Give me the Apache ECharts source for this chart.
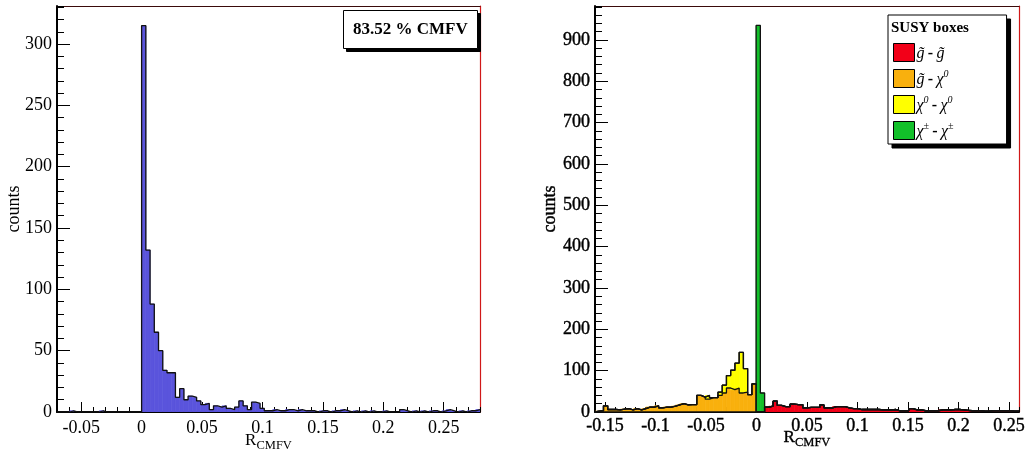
<!DOCTYPE html>
<html><head><meta charset="utf-8">
<script src="https://cdn.jsdelivr.net/npm/echarts@6/dist/echarts.min.js"></script>
<style>html,body{margin:0;padding:0;background:#fff}#c{width:1026px;height:455px}</style>
</head><body><div id="c"></div>
<script>
// ---------- data ----------
const LEFT_BINNING = [-0.07, 0.28, 100];   // min, max, nbins
const RIGHT_BINNING = [-0.16, 0.26, 100];
const LEFT_X_TICKS = [-0.05, 0, 0.05, 0.1, 0.15, 0.2, 0.25];
const RIGHT_X_TICKS = [-0.15, -0.1, -0.05, 0, 0.05, 0.1, 0.15, 0.2, 0.25];
const LEFT_Y_MAX = 331;
const RIGHT_Y_MAX = 982;
const BOX_TEXT = '83.52 % CMFV';
const LEGEND_TITLE = 'SUSY boxes';

const cmfv = [
  0,0,0,1,0,0,0,0,0,0,
  1,0,0,0,0,0,0,0,0,0,
  315,132,88,65,50,34,32,32,12,19,
  10,13,12,9,6,7,2,5,4,5,
  3,2,4,9,5,2,8,7,3,1,
  1,2,1,1,2,2,1,2,1,1,
  1,0,1,1,0,1,1,2,1,0,
  1,0,1,0,1,0,0,1,0,0,
  0,2,1,0,1,0,1,0,1,1,
  0,1,2,1,0,1,0,1,1,2
];
const gluGlu = [
  0,0,0,0,0,0,0,0,0,0, 0,0,0,0,0,0,0,0,0,0,
  0,0,0,0,0,0,0,0,0,0, 0,0,0,0,0,0,0,0,0,0,
  12,14,26,16,13,13,19,18,18,10,
  11,11,11,17,10,10,13,13,13,10,
  8,8,6,6,6,6,6,5,5,5,
  6,3,3,3,8,5,5,3,3,3,
  3,5,5,5,6,6,5,4,3,3,
  3,2,2,3,3,3,3,3,2,2
];
const gluNeu = [
  2,3,15,6,6,5,7,8,5,8,
  5,8,12,12,15,10,12,12,14,17,
  20,17,18,18,40,36,31,35,35,40,
  46,58,54,58,46,48,42,68,0,0,
  0,0,0,0,0,0,0,0,0,0, 0,0,0,0,0,0,0,0,0,0,
  0,0,0,0,0,0,0,0,0,0, 0,0,0,0,0,0,0,0,0,0,
  0,0,0,0,0,0,0,0,0,0, 0,0,0,0,0,0,0,0,0,0
];
const neuNeu = [
  0,0,0,0,0,0,0,0,0,0, 0,0,0,0,0,0,0,0,0,0,
  0,0,0,0,0,0,9,0,0,8, 19,30,47,60,98,57,0,0,0,0,
  0,0,0,0,0,0,0,0,0,0, 0,0,0,0,0,0,0,0,0,0,
  0,0,0,0,0,0,0,0,0,0, 0,0,0,0,0,0,0,0,0,0,
  0,0,0,0,0,0,0,0,0,0, 0,0,0,0,0,0,0,0,0,0
];
const chaCha = [
  0,0,0,0,0,0,0,0,0,0, 0,0,0,0,0,0,0,0,0,0,
  0,0,0,0,0,0,0,0,0,0, 0,0,0,0,0,0,0,0,935,46,
  0,0,0,0,0,0,0,0,0,0, 0,0,0,0,0,0,0,0,0,0,
  0,0,0,0,0,0,0,0,0,0, 0,0,0,0,0,0,0,0,0,0,
  0,0,0,0,0,0,0,0,0,0, 0,0,0,0,0,0,0,0,0,0
];
const STACK_NAMES = ['gg', 'gn', 'nn', 'cc'];
const STACK_LABELS = {
  gg: '{i|g̃} {m|-} {i|g̃}',
  gn: '{i|g̃} {m|-} {i|χ}{s|0}',
  nn: '{i|χ}{s|0} {m|-} {i|χ}{s|0}',
  cc: '{i|χ}{s|±} {m|-} {i|χ}{s|±}'
};
const STACK_COLORS = ['#f20018', '#f9b00d', '#ffff00', '#12c02a'];
const LEFT_COLOR = '#5a54dc';

// ---------- helpers ----------
const FONT = 'Liberation Serif';
function binsOf(binning, values, base) {
  const [mn, mx, n] = binning, w = (mx - mn) / n;
  return values.map((v, i) => [mn + i * w, mn + (i + 1) * w, base ? base[i] : 0, (base ? base[i] : 0) + v]);
}
function stepOf(items) {
  const pts = items.map(d => [d[0], d[3]]);
  const last = items[items.length - 1];
  pts.push([last[1], last[3]]);
  pts.unshift([items[0][0], 0]);
  return pts;
}
// axis index layout per grid: x: [main, major ticks, top frame]; y: [main, minor ticks, right frame]
function rectSeries(name, items, color, gi) {
  return {
    type: 'custom', name: name, xAxisIndex: gi * 3, yAxisIndex: gi * 3,
    itemStyle: { color: color }, clip: true, z: 2,
    encode: { x: [0, 1], y: [2, 3] },
    data: items,
    renderItem: function (params, api) {
      const lo = api.value(0), hi = api.value(1), b = api.value(2), t = api.value(3);
      if (t <= b) return null;
      const p0 = api.coord([lo, t]), p1 = api.coord([hi, b]);
      return { type: 'rect', shape: { x: p0[0], y: p0[1], width: p1[0] - p0[0], height: p1[1] - p0[1] },
               style: { fill: color, stroke: color, lineWidth: 0.7 } };
    }
  };
}
function outlineSeries(items, gi) {
  return {
    type: 'line', name: '_o', step: 'end', xAxisIndex: gi * 3, yAxisIndex: gi * 3,
    symbol: 'none', silent: true, z: 3, clip: true,
    lineStyle: { color: '#111', width: 1.3 }, data: stepOf(items)
  };
}
const fmt = v => String(Math.round(v * 1000) / 1000);

// ---------- build ----------
const leftItems = binsOf(LEFT_BINNING, cmfv, null);
const stackVals = [gluGlu, gluNeu, neuNeu, chaCha];
let cum = new Array(RIGHT_BINNING[2]).fill(0);
const stackItems = stackVals.map(vals => {
  const it = binsOf(RIGHT_BINNING, vals, cum);
  cum = it.map(d => d[3]);
  return it;
});

const series = [rectSeries('cmfv', leftItems, LEFT_COLOR, 0), outlineSeries(leftItems, 0)];
stackItems.forEach((it, k) => series.push(rectSeries(STACK_NAMES[k], it, STACK_COLORS[k], 1)));
stackItems.forEach(it => series.push(outlineSeries(it, 1)));

const tickLab = (right) => ({ fontFamily: FONT, fontSize: 18, color: '#000',
  textBorderColor: right ? '#000' : 'transparent', textBorderWidth: right ? 0.4 : 0 });

function xAxes(gi, binning, ticks, margin) {
  const common = { gridIndex: gi, type: 'value', min: binning[0], max: binning[1], splitLine: { show: false } };
  const b = gi === 1;
  return [
    Object.assign({}, common, {
      position: 'bottom', interval: 0.01,
      axisLine: { show: true, onZero: false, lineStyle: { color: '#000', width: 2 } },
      axisTick: { show: true, inside: true, length: 5, lineStyle: { color: '#000', width: 1 } },
      axisLabel: Object.assign({ show: true, customValues: ticks, formatter: fmt, margin: margin, hideOverlap: false }, tickLab(b)),
      name: '{r|R}{s|CMFV}', nameLocation: 'middle', nameGap: b ? 17 : 20, nameMoveOverlap: false,
      nameTextStyle: { verticalAlign: 'top', rich: {
        r: { fontFamily: FONT, fontSize: 17, lineHeight: 17, verticalAlign: 'top', color: '#000',
             textBorderColor: b ? '#000' : 'transparent', textBorderWidth: b ? 0.4 : 0 },
        s: { fontFamily: FONT, fontSize: 12.5, lineHeight: 20, verticalAlign: 'bottom', color: '#000',
             textBorderColor: b ? '#000' : 'transparent', textBorderWidth: b ? 0.3 : 0 } } }
    }),
    Object.assign({}, common, {
      position: 'bottom',
      axisLine: { show: false, onZero: false },
      axisTick: { show: true, inside: true, length: 10, customValues: ticks, lineStyle: { color: '#000', width: 1 } },
      axisLabel: { show: false }
    }),
    Object.assign({}, common, {
      position: 'top',
      axisLine: { show: true, onZero: false, lineStyle: { color: '#3a0a0a', width: 1 } },
      axisTick: { show: false }, axisLabel: { show: false }
    })
  ];
}
function yAxes(gi, max, interval) {
  const b = gi === 1;
  return [
    { gridIndex: gi, type: 'value', min: 0, max: max, interval: interval, position: 'left',
      splitLine: { show: false },
      axisLine: { show: true, onZero: false, lineStyle: { color: '#000', width: 2 } },
      axisTick: { show: true, inside: true, length: 13, lineStyle: { color: '#000', width: 1 } },
      axisLabel: Object.assign({ margin: 5, showMaxLabel: false }, tickLab(b)),
      name: 'counts', nameLocation: 'middle', nameRotate: 90, nameGap: b ? 36 : 34, nameMoveOverlap: false,
      nameTextStyle: Object.assign({}, tickLab(b), { fontSize: 18 }) },
    { gridIndex: gi, type: 'value', min: 0, max: max, interval: interval / 5, position: 'left',
      splitLine: { show: false }, axisLine: { show: false, onZero: false },
      axisTick: { show: true, inside: true, length: 7, lineStyle: { color: '#000', width: 1 } },
      axisLabel: { show: false } },
    { gridIndex: gi, type: 'value', min: 0, max: max, position: 'right',
      splitLine: { show: false },
      axisLine: { show: true, onZero: false, lineStyle: { color: '#d01818', width: 1.2 } },
      axisTick: { show: false }, axisLabel: { show: false } }
  ];
}

const boxTitle = (dx, front) => ({
  text: BOX_TEXT, left: 343 + dx, top: 10 + dx, padding: [11, 10, 11, 10], z: front ? 8 : 7,
  backgroundColor: front ? '#fff' : '#000', borderColor: '#000', borderWidth: 1,
  textStyle: { fontFamily: FONT, fontSize: 17, fontWeight: 'bold', color: '#000' }
});
const legendBox = (dx, front) => ({
  data: STACK_NAMES, orient: 'vertical', left: 888 + dx, top: 15 + dx, z: front ? 6 : 5,
  padding: [28, 53, 4, 5], itemWidth: 21, itemHeight: 18, itemGap: 7,
  backgroundColor: front ? '#fff' : '#000', borderColor: '#000', borderWidth: 1,
  icon: 'rect', selectedMode: false,
  itemStyle: { borderColor: '#000', borderWidth: 1 },
  formatter: n => STACK_LABELS[n],
  textStyle: { padding: [0, 0, 0, -3], rich: {
    i: { fontFamily: FONT, fontSize: 16, fontStyle: 'italic', color: '#000', lineHeight: 18, verticalAlign: 'bottom' },
    m: { fontFamily: FONT, fontSize: 16, fontWeight: 'bold', color: '#000', lineHeight: 18, verticalAlign: 'bottom' },
    s: { fontFamily: FONT, fontSize: 10, fontStyle: 'italic', color: '#000', lineHeight: 10, verticalAlign: 'top' }
  } }
});

const option = {
  animation: false,
  backgroundColor: '#fff',
  grid: [
    { left: 57, top: 6, width: 423, height: 406, containLabel: false, outerBoundsMode: 'none' },
    { left: 595, top: 6, width: 424, height: 406, containLabel: false, outerBoundsMode: 'none' }
  ],
  xAxis: [].concat(xAxes(0, LEFT_BINNING, LEFT_X_TICKS, 7), xAxes(1, RIGHT_BINNING, RIGHT_X_TICKS, 5)),
  yAxis: [].concat(yAxes(0, LEFT_Y_MAX, 50), yAxes(1, RIGHT_Y_MAX, 100)),
  title: [
    boxTitle(3, false), boxTitle(0, true),
    { text: LEGEND_TITLE, left: 891, top: 21, padding: 0, z: 10,
      textStyle: { fontFamily: FONT, fontSize: 15, fontWeight: 'bold', color: '#000' } }
  ],
  legend: [legendBox(4, false), legendBox(0, true)],
  series: series
};
const chart = echarts.init(document.getElementById('c'), null, { renderer: 'canvas' });
chart.setOption(option);
</script></body></html>
